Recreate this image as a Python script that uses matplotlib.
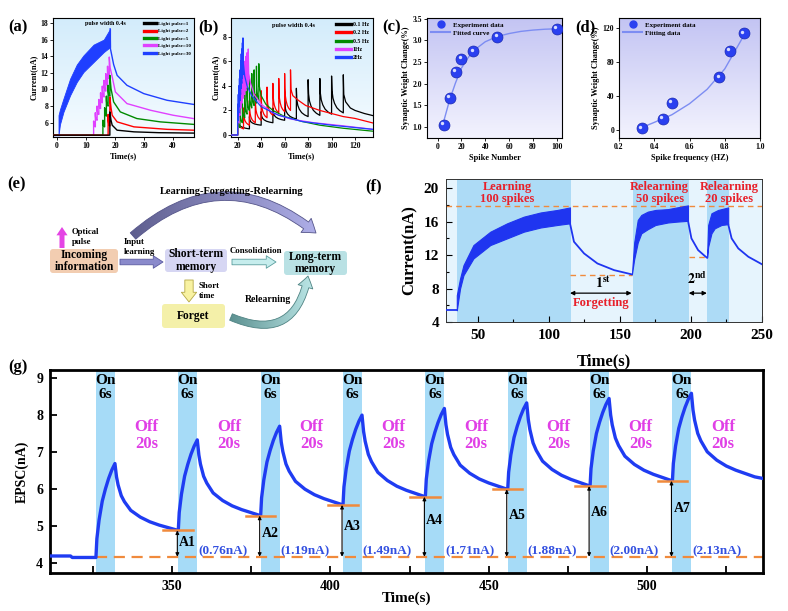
import numpy as np
import matplotlib
matplotlib.use('Agg')
import matplotlib.pyplot as plt
from matplotlib.patches import FancyBboxPatch, FancyArrowPatch
from matplotlib.colors import LinearSegmentedColormap
from matplotlib.ticker import MultipleLocator
from matplotlib.lines import Line2D
from matplotlib import transforms

plt.rcParams['font.family'] = ['Liberation Serif', 'DejaVu Serif']
plt.rcParams['font.weight'] = 'bold'
plt.rcParams['axes.labelweight'] = 'bold'
plt.rcParams['mathtext.fontset'] = 'stix'

# ======================= DATA =======================
# ---- (a) EPSC for different numbers of light pulses ----
a_names = ['Light pulse=1', 'Light pulse=2', 'Light pulse=5', 'Light pulse=10', 'Light pulse=30']
a_base = 4.5
a1_t = [18.2]; a1_peak = [7.3]; a1_trough = [4.5]
a1_tail_t = [18.6, 19.0, 20.7, 26.5, 35.0, 47.0]; a1_tail_v = [6.3, 5.7, 5.1, 4.9, 4.8, 4.75]
a2_t = [17.6, 18.2]; a2_peak = [7.0, 9.1]; a2_trough = [4.5, 5.6]
a2_tail_t = [18.6, 19.0, 20.7, 26.5, 38.0, 47.0]; a2_tail_v = [7.8, 6.9, 6.1, 5.5, 5.2, 5.1]
a5_t = [15.8, 16.4, 17.0, 17.6, 18.2]; a5_peak = [6.3, 7.8, 9.2, 10.5, 11.7]
a5_trough = [4.5, 5.5, 6.8, 8.0, 9.2]
a5_tail_t = [18.6, 19.5, 21.8, 27.5, 35.6, 47.0]; a5_tail_v = [10.1, 8.5, 7.3, 6.5, 6.1, 5.8]
a10_t = [12.6, 13.2, 13.8, 14.4, 15.0, 15.6, 16.2, 16.8, 17.4, 18.0]
a10_peak = [6.2, 7.2, 8.0, 8.8, 9.6, 10.4, 11.1, 11.9, 12.8, 13.9]
a10_trough = [4.5, 5.5, 6.3, 7.0, 7.7, 8.4, 9.1, 9.8, 10.5, 11.3]
a10_tail_t = [18.3, 18.9, 20.1, 24.1, 32.2, 40.0, 47.0]; a10_tail_v = [12.6, 11.7, 9.7, 8.3, 7.5, 6.9, 6.5]
a30_env_t = [0.5, 1.0, 2.2, 4.5, 6.8, 9.1, 12.6, 16.1, 18.3]
a30_up = [6.9, 7.6, 8.9, 11.3, 13.0, 14.1, 15.4, 16.0, 17.3]
a30_lo = [4.5, 5.8, 7.3, 9.3, 10.9, 12.1, 13.3, 14.5, 15.1]
a30_tail_t = [18.3, 18.4, 19.5, 20.7, 24.1, 29.9, 37.9, 47.1]
a30_tail_v = [17.3, 14.9, 13.0, 11.7, 10.5, 9.5, 8.7, 8.2]

# ---- (b) EPSC for different pulse frequencies ----
b_names = ['0.1 Hz', '0.2 Hz', '0.5 Hz', '1Hz', '2Hz']
b01_t = [20, 30, 40, 50, 60, 70, 80, 90, 100, 110]
b01_peak = [1.3, 1.5, 1.9, 2.2, 2.9, 3.8, 4.5, 4.6, 4.8, 4.9]
b01_trough = [0.0, 0.5, 0.8, 1.0, 1.2, 1.3, 1.5, 1.6, 1.7, 1.8]
b01_tail_t = [110.4, 112, 116, 120, 128, 136.5]; b01_tail_v = [3.3, 2.7, 2.2, 2.0, 1.75, 1.55]
b02_t = [20, 25, 30, 35, 40, 45, 50, 55, 60, 65]
b02_peak = [1.5, 2.2, 2.8, 3.3, 3.6, 3.9, 4.2, 4.6, 5.0, 5.3]
b02_trough = [0.0, 0.5, 0.8, 1.0, 1.2, 1.4, 1.6, 1.8, 1.9, 2.0]
b02_tail_t = [65.4, 67, 72, 78, 90, 98, 110, 120, 136.5]
b02_tail_v = [3.7, 3.2, 2.8, 2.4, 2.0, 1.8, 1.5, 1.35, 0.95]
b05_t = [20, 22, 24, 26, 28, 30, 32, 34, 36, 38]
b05_peak = [1.5, 2.3, 3.0, 3.6, 4.1, 4.6, 5.0, 5.3, 5.6, 5.8]
b05_trough = [0.0, 0.6, 1.0, 1.4, 1.7, 2.0, 2.2, 2.4, 2.6, 2.8]
b05_tail_t = [38.4, 40, 44, 50, 60, 75, 90, 110, 136.5]
b05_tail_v = [4.0, 3.2, 2.5, 2.0, 1.5, 1.1, 0.8, 0.55, 0.3]
b1_t = [20, 21, 22, 23, 24, 25, 26, 27, 28, 29]
b1_peak = [2.0, 3.0, 3.8, 4.5, 5.0, 5.5, 6.0, 6.4, 6.7, 7.0]
b1_trough = [0.0, 1.0, 1.6, 2.2, 2.6, 3.0, 3.3, 3.6, 3.9, 4.1]
b1_tail_t = [29.4, 31, 34, 40, 50, 65, 85, 110, 136.5]
b1_tail_v = [5.0, 4.2, 3.3, 2.5, 1.8, 1.3, 1.0, 0.75, 0.45]
b2_t = [20, 20.5, 21, 21.5, 22, 22.5, 23, 23.5, 24, 24.5]
b2_peak = [2.5, 3.3, 4.0, 4.6, 5.3, 6.0, 6.6, 7.0, 7.5, 7.9]
b2_trough = [0.0, 1.2, 1.8, 2.3, 2.8, 3.3, 3.8, 4.2, 4.6, 4.9]
b2_tail_t = [24.9, 26, 28, 32, 40, 55, 75, 100, 136.5]
b2_tail_v = [5.8, 4.8, 4.0, 3.2, 2.3, 1.6, 1.1, 0.8, 0.45]

# normalised decay profile between two pulses
dec_frac_t = [0.0, 0.04, 0.12, 0.25, 0.45, 0.7, 1.0]
dec_frac_v = [1.0, 0.6, 0.4, 0.26, 0.14, 0.06, 0.0]

# ---- (c) weight change vs spike number ----
c_x = [5, 10, 15, 20, 30, 50, 100]
c_y = [1.05, 1.67, 2.28, 2.57, 2.75, 3.08, 3.27]
c_fit_x = [5, 10, 15, 20, 25, 30, 40, 50, 60, 70, 80, 90, 100]
c_fit_y = [1.12, 1.62, 2.02, 2.36, 2.58, 2.76, 2.97, 3.09, 3.16, 3.21, 3.24, 3.26, 3.27]

# ---- (d) weight change vs spike frequency ----
d_x = [0.33, 0.45, 0.50, 0.77, 0.83, 0.91]
d_y = [2, 13, 32, 62, 93, 114]
d_fit_x = [0.33, 0.40, 0.50, 0.60, 0.70, 0.80, 0.91]
d_fit_y = [3, 9, 18, 31, 48, 72, 112]

# ---- (f) learning-forgetting-relearning ----
f_band_start = [35.1, 159.0, 211.4]
f_band_end = [115.3, 198.4, 226.7]
f_base_t = [27.5, 35.1]; f_base_v = [5.4, 5.4]
f1_t = [35.1, 37.4, 39.8, 46.8, 58.7, 70.5, 82.3, 94.1, 105.9, 114.8]
f1_up = [7.2, 9.2, 10.8, 13.2, 14.8, 15.8, 16.6, 17.1, 17.4, 17.7]
f1_lo = [5.4, 8.0, 9.6, 11.6, 13.2, 14.0, 14.8, 15.3, 15.6, 15.8]
f1_dec_t = [114.8, 117.6, 124.7, 134.1, 145.9, 158.2]
f1_dec_v = [15.8, 13.6, 12.2, 11.0, 10.2, 9.7]
f2_t = [158.4, 160.0, 162.5, 165.0, 169.6, 175.0, 183.8, 190.0, 197.9]
f2_up = [9.7, 13.5, 16.2, 16.8, 17.2, 17.4, 17.5, 17.7, 17.95]
f2_lo = [9.7, 11.5, 13.5, 14.6, 15.1, 15.6, 15.9, 16.0, 16.1]
f2_dec_t = [197.9, 200.3, 205.0, 209.7, 211.2]
f2_dec_v = [16.1, 14.0, 12.6, 11.9, 11.7]
f3_t = [211.3, 212.1, 214.4, 216.7, 219.1, 221.5, 226.2]
f3_up = [11.7, 15.6, 17.0, 17.2, 17.4, 17.5, 17.7]
f3_lo = [11.7, 13.0, 14.6, 15.2, 15.4, 15.6, 15.7]
f3_dec_t = [226.2, 228.6, 233.3, 240.4, 250.0]
f3_dec_v = [15.7, 14.0, 12.8, 11.8, 10.9]
f_top_level = 17.9
f_forget_levels = [9.6, 11.8]
f_forget_from = [114.8, 198.4]
f_forget_to = [158.2, 211.2]

# ---- (g) on/off EPSC train ----
g_on = 6
g_off = 20
g_start = [326, 352, 378, 404, 430, 456, 482, 508]
g_peak = [6.69, 7.33, 7.70, 8.00, 8.18, 8.33, 8.45, 8.59]
g_before = [4.15, 4.88, 5.28, 5.57, 5.79, 5.99, 6.08, 6.22]
g_last_trough = 6.33
g_end_t = 537.0; g_end_v = 6.28
g_pre_t = [311.0, 318.0, 318.5, 326.0]; g_pre_v = [4.19, 4.19, 4.15, 4.15]
g_base = 4.17
g_a_labels = ['A1', 'A2', 'A3', 'A4', 'A5', 'A6', 'A7']
g_a_values = ['(0.76nA)', '(1.19nA)', '(1.49nA)', '(1.71nA)', '(1.88nA)', '(2.00nA)', '(2.13nA)']
g_rise_dt = [0, 0.3, 1, 2, 3, 4, 5, 6]
g_rise_f = [0, 0.2, 0.4, 0.6, 0.73, 0.84, 0.93, 1.0]
g_decay_dt = [0, 0.5, 1, 2, 3, 5, 8, 11, 14, 17, 20]
g_decay_f = [1, 0.8, 0.68, 0.52, 0.43, 0.3, 0.2, 0.13, 0.08, 0.04, 0]

# ======================= HELPERS =======================
W, H = 788, 611
fig = plt.figure(figsize=(W / 100, H / 100), dpi=100)


def px_axes(x0, y0, x1, y1):
    return fig.add_axes([x0 / W, 1 - y1 / H, (x1 - x0) / W, (y1 - y0) / H])


def gradient_bg(ax, top, bottom):
    grad = np.linspace(0, 1, 256).reshape(-1, 1)
    cmap = LinearSegmentedColormap.from_list('bg', [bottom, top])
    ax.imshow(grad, extent=[0, 1, 0, 1], transform=ax.transAxes, origin='lower',
              cmap=cmap, aspect='auto', zorder=0, interpolation='bilinear')


def spike_trace(t0, base, times, peaks, troughs, tail_t, tail_v):
    T = [t0, times[0]]
    V = [base, troughs[0]]
    for i, (ti, pk) in enumerate(zip(times, peaks)):
        T.append(ti); V.append(pk)
        if i + 1 < len(times):
            t1, v1 = times[i + 1], troughs[i + 1]
            for ft, fv in zip(dec_frac_t, dec_frac_v):
                T.append(ti + ft * (t1 - ti)); V.append(v1 + fv * (pk - v1))
    T += list(tail_t); V += list(tail_v)
    return T, V


def small_axes_style(ax):
    ax.tick_params(labelsize=5.5, length=2, width=0.6, pad=1.5)
    for s in ax.spines.values():
        s.set_linewidth(0.8)


def panel_label(x, y, s):
    fig.text(x / W, 1 - y / H, s, fontsize=12, fontweight='bold', ha='center', va='center')


# ======================= (a) =======================
ax = px_axes(53, 18, 194, 137)
gradient_bg(ax, '#d3ecfb', '#f5fbff')
a_cols = ['black', '#ff0000', '#008a00', '#e040ff', '#1f3fff']
traces = [
    spike_trace(-1.4, a_base, a1_t, a1_peak, a1_trough, a1_tail_t, a1_tail_v),
    spike_trace(-1.4, a_base, a2_t, a2_peak, a2_trough, a2_tail_t, a2_tail_v),
    spike_trace(-1.4, a_base, a5_t, a5_peak, a5_trough, a5_tail_t, a5_tail_v),
    spike_trace(-1.4, a_base, a10_t, a10_peak, a10_trough, a10_tail_t, a10_tail_v),
]
ax.plot([-1.4, a30_env_t[0]], [a_base, a_base], color=a_cols[4], lw=1.0, zorder=2)
ax.fill_between(a30_env_t, a30_lo, a30_up, color=a_cols[4], lw=0.6, zorder=2)
ax.plot(a30_tail_t, a30_tail_v, color=a_cols[4], lw=1.0, zorder=2)
for (T, V), c in zip(traces[::-1], a_cols[3::-1]):
    ax.plot(T, V, color=c, lw=1.0, zorder=3)
handles = [Line2D([], [], color=c, lw=2.4) for c in a_cols]
ax.legend(handles, a_names, loc='upper right', fontsize=3.7, frameon=False,
          handlelength=2.4, handletextpad=0.25, labelspacing=0.55, borderaxespad=0.25)
ax.text(0.37, 0.95, 'pulse width 0.4s', transform=ax.transAxes, fontsize=4.3,
        ha='center', va='center')
ax.set_xlim(-1.4, 47.2); ax.set_ylim(4.28, 18.6)
ax.set_xticks([0, 10, 20, 30, 40]); ax.set_yticks([6, 8, 10, 12, 14, 16, 18])
small_axes_style(ax)
ax.set_xlabel('Time(s)', fontsize=6, labelpad=1.5)
ax.set_ylabel('Current(nA)', fontsize=6, labelpad=1.5)
panel_label(18, 27, '(a)')

# ======================= (b) =======================
ax = px_axes(231, 18, 373, 137)
gradient_bg(ax, '#d3ecfb', '#f5fbff')
b_cols = ['black', '#ff0000', '#008a00', '#e040ff', '#1f3fff']
b_sets = [
    (b01_t, b01_peak, b01_trough, b01_tail_t, b01_tail_v),
    (b02_t, b02_peak, b02_trough, b02_tail_t, b02_tail_v),
    (b05_t, b05_peak, b05_trough, b05_tail_t, b05_tail_v),
    (b1_t, b1_peak, b1_trough, b1_tail_t, b1_tail_v),
    (b2_t, b2_peak, b2_trough, b2_tail_t, b2_tail_v),
]
for (tt, pk, tr, tlt, tlv), c in zip(b_sets, b_cols):
    T, V = spike_trace(14.3, 0.0, tt, pk, tr, tlt, tlv)
    ax.plot(T, V, color=c, lw=0.9, zorder=3)
handles = [Line2D([], [], color=c, lw=2.4) for c in b_cols]
ax.legend(handles, b_names, loc='upper right', fontsize=4.2, frameon=False,
          handlelength=2.6, handletextpad=0.3, labelspacing=0.55, borderaxespad=0.3)
ax.text(0.44, 0.94, 'pulse width 0.4s', transform=ax.transAxes, fontsize=4.5,
        ha='center', va='center')
ax.set_xlim(14.3, 135.3); ax.set_ylim(-0.16, 9.52)
ax.set_xticks([20, 40, 60, 80, 100, 120]); ax.set_yticks([0, 2, 4, 6, 8])
small_axes_style(ax)
ax.set_xlabel('Time(s)', fontsize=6, labelpad=1.5)
ax.set_ylabel('Current(nA)', fontsize=6, labelpad=1.5)
panel_label(208, 27, '(b)')


def spheres(ax, x, y, label):
    ax.scatter(x, y, s=62, color='#2a40f0', edgecolor='#1a28b0', linewidth=0.5,
               zorder=4, label=label)
    tr = transforms.offset_copy(ax.transData, fig=fig, x=-1.2, y=1.2, units='points')
    ax.scatter(x, y, s=6, color='#d8ddff', lw=0, zorder=5, transform=tr)


# ======================= (c) =======================
ax = px_axes(427, 18, 562, 138)
gradient_bg(ax, '#c3c4f3', '#f3f3fe')
ax.plot(c_fit_x, c_fit_y, color='#7d8df2', lw=1.0, zorder=3)
spheres(ax, c_x, c_y, 'Experiment data')
handles = [Line2D([], [], marker='o', ls='none', color='#2a40f0', markersize=5),
           Line2D([], [], color='#7d8df2', lw=1.5)]
ax.legend(handles, ['Experiment data', 'Fitted curve'], loc='upper left', fontsize=5,
          frameon=False, handlelength=2.8, handletextpad=0.4, labelspacing=0.3, borderaxespad=0.15)
ax.set_xlim(-9, 104.5); ax.set_ylim(0.74, 3.52)
ax.set_xticks([0, 20, 40, 60, 80, 100]); ax.set_yticks([1.0, 1.5, 2.0, 2.5, 3.0, 3.5])
ax.yaxis.set_major_formatter(matplotlib.ticker.FormatStrFormatter('%.1f'))
small_axes_style(ax)
ax.set_xlabel('Spike Number', fontsize=6, labelpad=2.5)
ax.set_ylabel('Synaptic Weight Change(%)', fontsize=6, labelpad=2)
panel_label(392, 27, '(c)')

# ======================= (d) =======================
ax = px_axes(619, 18, 760, 138)
gradient_bg(ax, '#c3c4f3', '#f3f3fe')
ax.plot(d_fit_x, d_fit_y, color='#7d8df2', lw=1.0, zorder=3)
spheres(ax, d_x, d_y, 'Experiment data')
handles = [Line2D([], [], marker='o', ls='none', color='#2a40f0', markersize=5),
           Line2D([], [], color='#7d8df2', lw=1.5)]
ax.legend(handles, ['Experiment data', 'Fitting data'], loc='upper left', fontsize=5,
          frameon=False, handlelength=2.8, handletextpad=0.4, labelspacing=0.3, borderaxespad=0.15)
ax.set_xlim(0.2, 1.0); ax.set_ylim(-9.4, 132)
ax.set_xticks([0.2, 0.4, 0.6, 0.8, 1.0]); ax.set_yticks([0, 40, 80, 120])
small_axes_style(ax)
ax.set_xlabel('Spike frequency (HZ)', fontsize=6, labelpad=2.5)
ax.set_ylabel('Synaptic Weight Change(%)', fontsize=6, labelpad=2)
panel_label(585, 27, '(d)')

# ======================= (e) diagram =======================
axe = px_axes(0, 170, 360, 350)
axe.set_xlim(0, 360); axe.set_ylim(350, 170); axe.axis('off')


def box(x0, y0, x1, y1, fc, text, fs=8.3):
    axe.add_patch(FancyBboxPatch((x0, y0), x1 - x0, y1 - y0,
                                 boxstyle='round,pad=0,rounding_size=3', fc=fc, ec='none', zorder=2))
    axe.text((x0 + x1) / 2, (y0 + y1) / 2, text, ha='center', va='center', fontsize=fs,
             fontweight='bold', linespacing=1.05, zorder=3)


def arrow(p0, p1, fc, ec, tw, hw, hl, rad=0.0, z=3):
    a = FancyArrowPatch(p0, p1, arrowstyle=f'simple,head_length={hl},head_width={hw},tail_width={tw}',
                        connectionstyle=f'arc3,rad={rad}', fc=fc, ec=ec, lw=0.6,
                        mutation_scale=1, shrinkA=0, shrinkB=0, zorder=z)
    axe.add_patch(a)
    return a


def grad_arrow(p0, p1, c0, c1, ec, tw, hw, hl, rad, extent):
    base = arrow(p0, p1, 'none', 'none', tw, hw, hl, rad, z=1)
    grad = np.linspace(0, 1, 256).reshape(1, -1)
    cmap = LinearSegmentedColormap.from_list('ar', [c0, c1])
    im = axe.imshow(grad, extent=extent, cmap=cmap, aspect='auto', zorder=1.5,
                    interpolation='bilinear')
    im.set_clip_path(base)
    arrow(p0, p1, 'none', ec, tw, hw, hl, rad, z=2)


grad_arrow((133, 236), (316, 233), '#5c5c8c', '#b2b2ec', '#55558a', 6.0, 12.5, 9, -0.42,
           (125, 325, 240, 190))
axe.text(232, 192, 'Learning-Forgetting-Relearning', ha='center', va='center', fontsize=7.5,
         fontweight='bold')
grad_arrow((231, 317), (308, 276), '#5a8f8f', '#bde8e8', '#4f8383', 5.0, 11, 8, 0.62,
           (228, 315, 330, 270))
axe.text(268, 299, 'Relearning', ha='center', va='center', fontsize=7, fontweight='bold')

arrow((62, 248), (62, 227), '#e444e4', 'none', 3.6, 8, 6)
axe.text(72, 237, 'Optical\npulse', ha='left', va='center', fontsize=6.3, fontweight='bold',
         linespacing=1.2)
box(50, 249, 118, 273, '#f2cdb1', 'Incoming\ninformation')
arrow((120, 262), (163, 262), '#8a8acb', '#5a5aa0', 4.0, 9, 7)
axe.text(124, 247, 'Input\nlearning', ha='left', va='center', fontsize=6.3, fontweight='bold',
         linespacing=1.2)
box(165, 249, 227, 272, '#d6d6f3', 'Short-term\nmemory')
arrow((232, 262), (276, 262), '#c6eded', '#5a9e9e', 4.0, 9, 7)
axe.text(256, 251, 'Consolidation', ha='center', va='center', fontsize=6.3, fontweight='bold')
box(284, 251, 347, 275, '#b9e1e4', 'Long-term\nmemory')
arrow((189, 280), (189, 302), '#f8f2a2', '#b5a845', 6.0, 11, 7)
axe.text(199, 291, 'Short\ntime', ha='left', va='center', fontsize=6.3, fontweight='bold',
         linespacing=1.2)
box(162, 304, 225, 328, '#f4f0a9', 'Forget')
panel_label(17, 184, '(e)')

# ======================= (f) =======================
axf = px_axes(446, 179, 762, 322)
axf.set_facecolor('#e6f4fd')
for s, e in zip(f_band_start, f_band_end):
    axf.axvspan(s, e, color='#addbf6', lw=0, zorder=0.5)
fc = '#1f35f0'
axf.plot(f_base_t, f_base_v, color=fc, lw=1.3, zorder=3)
for tt, lo, up in [(f1_t, f1_lo, f1_up), (f2_t, f2_lo, f2_up), (f3_t, f3_lo, f3_up)]:
    axf.fill_between(tt, lo, up, color=fc, lw=0.8, zorder=3)
for tt, vv in [(f1_dec_t, f1_dec_v), (f2_dec_t, f2_dec_v), (f3_dec_t, f3_dec_v)]:
    axf.plot(tt, vv, color=fc, lw=1.3, zorder=3)
orange = '#f08a3c'
axf.axhline(f_top_level, color=orange, lw=1.0, ls=(0, (4, 3)), zorder=2)
for lv, a0, a1 in zip(f_forget_levels, f_forget_from, f_forget_to):
    axf.plot([a0, a1], [lv, lv], color=orange, lw=1.0, ls=(0, (4, 3)), zorder=2)
for a0, a1 in zip(f_forget_from, f_forget_to):
    axf.annotate('', xy=(a0, 7.45), xytext=(a1, 7.45),
                 arrowprops=dict(arrowstyle='<|-|>', color='black', lw=0.9, mutation_scale=6,
                                 shrinkA=0, shrinkB=0))
red = '#e8202a'
for x, s in [(70.5, 'Learning\n100 spikes'), (178, 'Relearning\n50 spikes'),
             (227, 'Relearning\n20 spikes')]:
    axf.text(x, 19.45, s, color=red, fontsize=9, ha='center', va='center', linespacing=1.0,
             zorder=5)
axf.text(138, 8.7, r'$\mathbf{1^{st}}$', fontsize=10, ha='center', va='center')
axf.text(204.5, 9.2, r'$\mathbf{2^{nd}}$', fontsize=10, ha='center', va='center')
axf.text(136.6, 6.3, 'Forgetting', color=red, fontsize=9, ha='center', va='center')
axf.set_xlim(27.5, 250); axf.set_ylim(4, 21.1)
axf.set_xticks([50, 100, 150, 200, 250]); axf.set_yticks([4, 8, 12, 16, 20])
axf.xaxis.set_minor_locator(MultipleLocator(25)); axf.yaxis.set_minor_locator(MultipleLocator(2))
axf.tick_params(which='both', direction='in', labelsize=11, width=0.8)
axf.tick_params(which='major', length=4, pad=5)
axf.tick_params(which='minor', length=2)
for s in axf.spines.values():
    s.set_linewidth(0.7); s.set_color('#333333')
axf.set_xlabel('Time(s)', fontsize=12, labelpad=8)
axf.set_ylabel('Current(nA)', fontsize=12, labelpad=4)
panel_label(374, 186, '(f)')

# ======================= (g) =======================
axg = px_axes(50, 370, 763, 573)
band_c = '#a6dbf7'
for s in g_start:
    axg.axvspan(s, s + g_on, color=band_c, lw=0, zorder=0.5)
T = list(g_pre_t); V = list(g_pre_v)
n = len(g_start)
for i in range(n):
    s, lo, pk = g_start[i], g_before[i], g_peak[i]
    for dt, f in zip(g_rise_dt, g_rise_f):
        T.append(s + dt); V.append(lo + f * (pk - lo))
    nxt = g_before[i + 1] if i + 1 < n else g_last_trough
    for dt, f in zip(g_decay_dt, g_decay_f):
        T.append(s + g_on + dt); V.append(nxt + f * (pk - nxt))
T.append(g_end_t); V.append(g_end_v)
axg.plot(T, V, color='#1f3cf2', lw=2.4, zorder=3, solid_joinstyle='round')
axg.plot([g_start[0], g_end_t], [g_base, g_base], color=orange, lw=1.6, ls=(0, (5, 3)), zorder=2)
for i in range(1, n):
    s, lv = g_start[i], g_before[i]
    axg.plot([s - 4.7, s + 4.6], [lv, lv], color=orange, lw=1.8, zorder=4)
    axg.annotate('', xy=(s - 0.3, lv), xytext=(s - 0.3, g_base),
                 arrowprops=dict(arrowstyle='<|-|>', color='black', lw=0.8, mutation_scale=5,
                                 shrinkA=0, shrinkB=0), zorder=5)
    axg.text(s + 0.3, (lv + g_base) / 2 + 0.04 * i, g_a_labels[i - 1], fontsize=10,
             ha='left', va='center', zorder=6)
    axg.text(s + 14, 4.32, g_a_values[i - 1], fontsize=9.5, color='#3350e0', ha='center',
             va='center', zorder=6)
for s in g_start:
    axg.text(s + g_on / 2, 8.74, 'On\n6s', fontsize=11, ha='center', va='center',
             linespacing=1.15, zorder=6)
    axg.text(s + g_on + 10, 7.45, 'Off\n20s', fontsize=12, ha='center', va='center',
             color='#e03fe6', linespacing=1.1, zorder=6)
axg.set_xlim(311.5, 536.6); axg.set_ylim(3.73, 9.22)
axg.set_xticks([350, 400, 450, 500]); axg.set_yticks([4, 5, 6, 7, 8, 9])
axg.xaxis.set_minor_locator(MultipleLocator(25))
axg.tick_params(which='both', direction='in', labelsize=10, width=1.3)
axg.tick_params(which='major', length=5, pad=5)
axg.tick_params(which='minor', length=5)
for s in axg.spines.values():
    s.set_linewidth(2.0)
axg.set_xlabel('Time(s)', fontsize=11, labelpad=-1)
axg.set_ylabel('EPSC(nA)', fontsize=10, labelpad=5)
panel_label(18, 367, '(g)')

fig.savefig('out.png', dpi=100)
